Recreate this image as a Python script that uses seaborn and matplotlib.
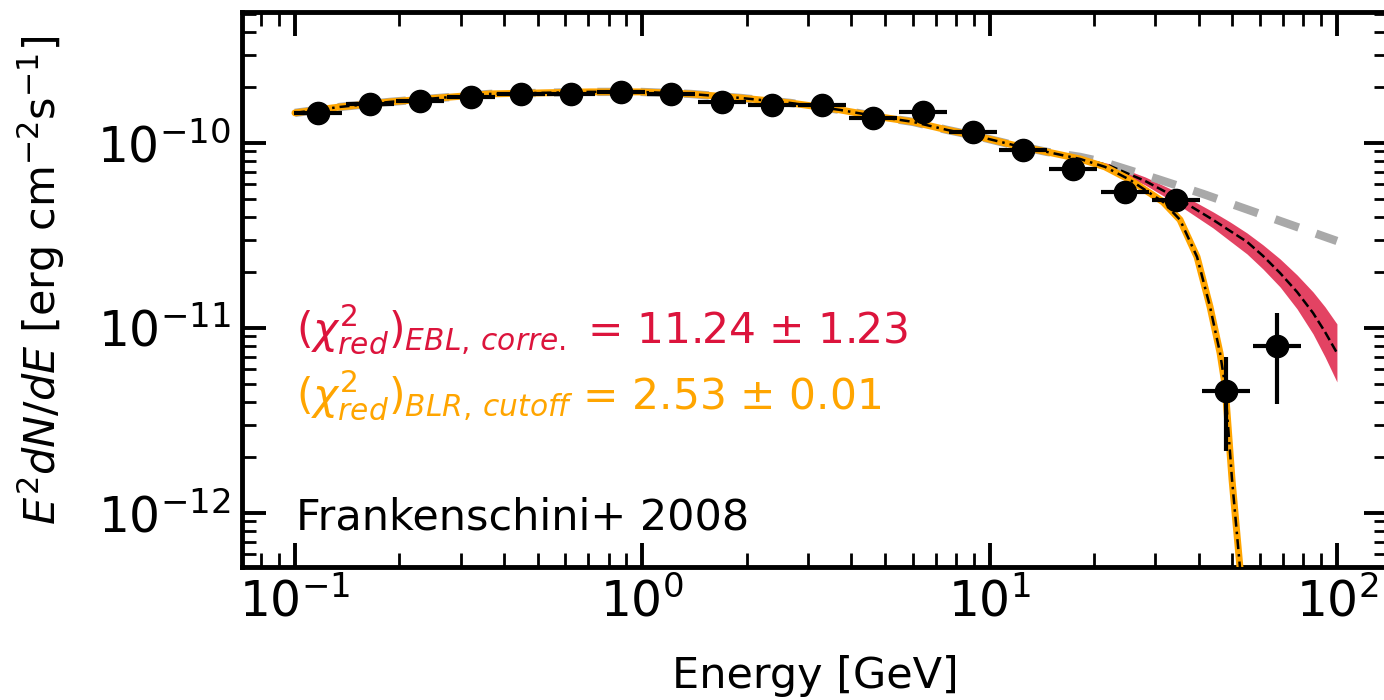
import numpy as np
import pandas as pd
import matplotlib
matplotlib.use("Agg")
import matplotlib.pyplot as plt
import seaborn as sns

# ---------------- data ----------------
energy = [0.1165, 0.1644, 0.2290, 0.3211, 0.4474, 0.6233, 0.8685, 1.209, 1.696, 2.363,
          3.291, 4.617, 6.430, 8.960, 12.48, 17.39, 24.54, 34.41, 47.94, 67.22]
e_low = [0.0994, 0.1402, 0.1953, 0.2739, 0.3816, 0.5317, 0.7408, 1.031, 1.447, 2.016,
         2.807, 3.938, 5.485, 7.643, 10.65, 14.83, 20.93, 29.35, 40.89, 57.34]
e_high = [0.1365, 0.1927, 0.2684, 0.3763, 0.5244, 0.7305, 1.018, 1.417, 1.988, 2.769,
          3.857, 5.411, 7.536, 10.50, 14.63, 20.38, 28.76, 40.33, 56.19, 78.78]
flux = [1.453e-10, 1.624e-10, 1.687e-10, 1.773e-10, 1.840e-10, 1.840e-10, 1.887e-10,
        1.840e-10, 1.666e-10, 1.604e-10, 1.604e-10, 1.365e-10, 1.471e-10, 1.147e-10,
        9.17e-11, 7.24e-11, 5.43e-11, 4.92e-11, 4.57e-12, 7.99e-12]
flux_err = [4e-12, 4e-12, 4e-12, 4e-12, 4e-12, 4e-12, 4e-12, 4e-12, 4e-12, 4e-12,
            4e-12, 4e-12, 5e-12, 4e-12, 3.5e-12, 3e-12, 3e-12, 3e-12, 2.4e-12, 4.1e-12]

# shared low-energy part of the model curves
model_x_low = [0.1, 0.1349, 0.1877, 0.2616, 0.3642, 0.5074, 0.7068, 0.9847, 1.372, 1.911,
               2.663, 3.709, 4.835, 6.017, 7.540, 9.383, 11.68, 14.63]
model_y_low = [1.453e-10, 1.565e-10, 1.666e-10, 1.751e-10, 1.840e-10, 1.863e-10, 1.887e-10,
               1.887e-10, 1.840e-10, 1.751e-10, 1.645e-10, 1.508e-10, 1.382e-10, 1.299e-10,
               1.176e-10, 1.078e-10, 9.75e-11, 8.94e-11]

# intrinsic (grey dashed) high-energy part
intr_x_high = [18.21, 21.21, 30.34, 41.17, 53.65, 71.83, 100.0]
intr_y_high = [8.40e-11, 7.89e-11, 6.39e-11, 5.30e-11, 4.45e-11, 3.67e-11, 2.95e-11]

# EBL corrected (crimson band + black dashed)
ebl_x = [18.21, 22.22, 28.02, 34.64, 39.03, 43.98, 49.23, 55.10, 61.27, 68.60,
         76.77, 85.35, 92.42, 100.0]
ebl_y = [8.30e-11, 7.51e-11, 6.23e-11, 5.04e-11, 4.40e-11, 3.84e-11, 3.345e-11, 2.92e-11,
         2.45e-11, 1.98e-11, 1.565e-11, 1.205e-11, 9.51e-12, 7.33e-12]
ebl_hi = [8.40e-11, 7.70e-11, 6.55e-11, 5.43e-11, 4.80e-11, 4.24e-11, 3.74e-11, 3.26e-11,
          2.81e-11, 2.36e-11, 1.934e-11, 1.565e-11, 1.299e-11, 1.051e-11]
ebl_lo = [8.19e-11, 7.33e-11, 5.93e-11, 4.68e-11, 4.03e-11, 3.47e-11, 2.95e-11, 2.51e-11,
          2.08e-11, 1.665e-11, 1.267e-11, 9.28e-12, 6.97e-12, 5.105e-12]

# BLR cutoff (orange + black dash-dot)
blr_x_high = [18.21, 21.49, 25.37, 31.57, 35.34, 39.56, 43.12, 46.07, 47.62, 49.89, 52.60, 54.0]
blr_y_high = [8.19e-11, 7.42e-11, 6.31e-11, 4.80e-11, 3.84e-11, 2.42e-11, 1.30e-11, 7.33e-12,
              4.92e-12, 1.51e-12, 5.04e-13, 2.0e-13]

chi_ebl = r"$(\chi^2_{red})_{EBL,\,corre.}$ = 11.24 ± 1.23"
chi_blr = r"$(\chi^2_{red})_{BLR,\,cutoff}$ = 2.53 ± 0.01"
ref_text = "Frankenschini+ 2008"

# ---------------- tables ----------------
intr = pd.DataFrame({"E": model_x_low + intr_x_high, "F": model_y_low + intr_y_high})
ebl_full = pd.DataFrame({"E": model_x_low + ebl_x, "F": model_y_low + ebl_y})
blr = pd.DataFrame({"E": model_x_low + blr_x_high, "F": model_y_low + blr_y_high})

sns.set_theme(style="ticks")
plt.rcParams["font.family"] = ["DejaVu Sans"]
plt.rcParams["mathtext.fontset"] = "dejavusans"
plt.rcParams["text.color"] = "black"
plt.rcParams["axes.labelcolor"] = "black"
plt.rcParams["xtick.color"] = "black"
plt.rcParams["ytick.color"] = "black"

fig = plt.figure(figsize=(13.84, 7.0), dpi=100)
ax = fig.add_axes([242 / 1384, 133 / 700, 1146 / 1384, 555 / 700])
ax.set_xscale("log")
ax.set_yscale("log")

# red band
ax.fill_between(ebl_x, ebl_lo, ebl_hi, color="crimson", alpha=0.8, lw=0, zorder=2)
# grey intrinsic
sns.lineplot(data=intr, x="E", y="F", ax=ax, color="darkgray", lw=6,
             sort=False, estimator=None, zorder=3)
ax.lines[-1].set_dashes((3.0, 2.2))
ax.lines[-1].set_dash_capstyle("butt")
# black dashed EBL line
sns.lineplot(data=ebl_full, x="E", y="F", ax=ax, color="black", lw=1.8,
             sort=False, estimator=None, zorder=4)
ax.lines[-1].set_linestyle("--")
# orange BLR
sns.lineplot(data=blr, x="E", y="F", ax=ax, color="orange", lw=5,
             sort=False, estimator=None, zorder=5)
sns.lineplot(data=blr, x="E", y="F", ax=ax, color="black", lw=1.8,
             sort=False, estimator=None, zorder=6)
ax.lines[-1].set_dashes((4.0, 2.0, 1.0, 2.0))

# data points
x = np.array(energy)
xerr = [x - np.array(e_low), np.array(e_high) - x]
ax.errorbar(energy, flux, xerr=xerr, yerr=flux_err, fmt="o", color="black",
            ms=16, elinewidth=3, capsize=0, zorder=10)

ax.set_xlim(0.0704, 140.3)
ax.set_ylim(5.1e-13, 5.1e-10)

ax.set_xlabel("Energy [GeV]", fontsize=31, color="black")
ax.set_ylabel(r"$E^2dN/dE$ [erg cm$^{-2}$s$^{-1}$]", fontsize=31, color="black")
ax.yaxis.set_label_coords(-0.153, 0.517)
ax.xaxis.set_label_coords(0.5, -0.158)

ax.text(0.047, 0.4036, chi_ebl, transform=ax.transAxes, color="crimson",
        fontsize=30.5, ha="left", va="baseline")
ax.text(0.047, 0.2829, chi_blr, transform=ax.transAxes, color="orange",
        fontsize=30.5, ha="left", va="baseline")
ax.text(0.047, 0.0667, ref_text, transform=ax.transAxes, color="black",
        fontsize=31, ha="left", va="baseline")

ax.tick_params(which="both", direction="in", top=True, right=True, colors="black")
ax.tick_params(which="major", length=17, width=2.8, labelsize=35, pad=8)
ax.tick_params(which="minor", length=10, width=2.0)
for sp in ax.spines.values():
    sp.set_linewidth(3.5)
    sp.set_color("black")

fig.savefig("out.png", dpi=100)
